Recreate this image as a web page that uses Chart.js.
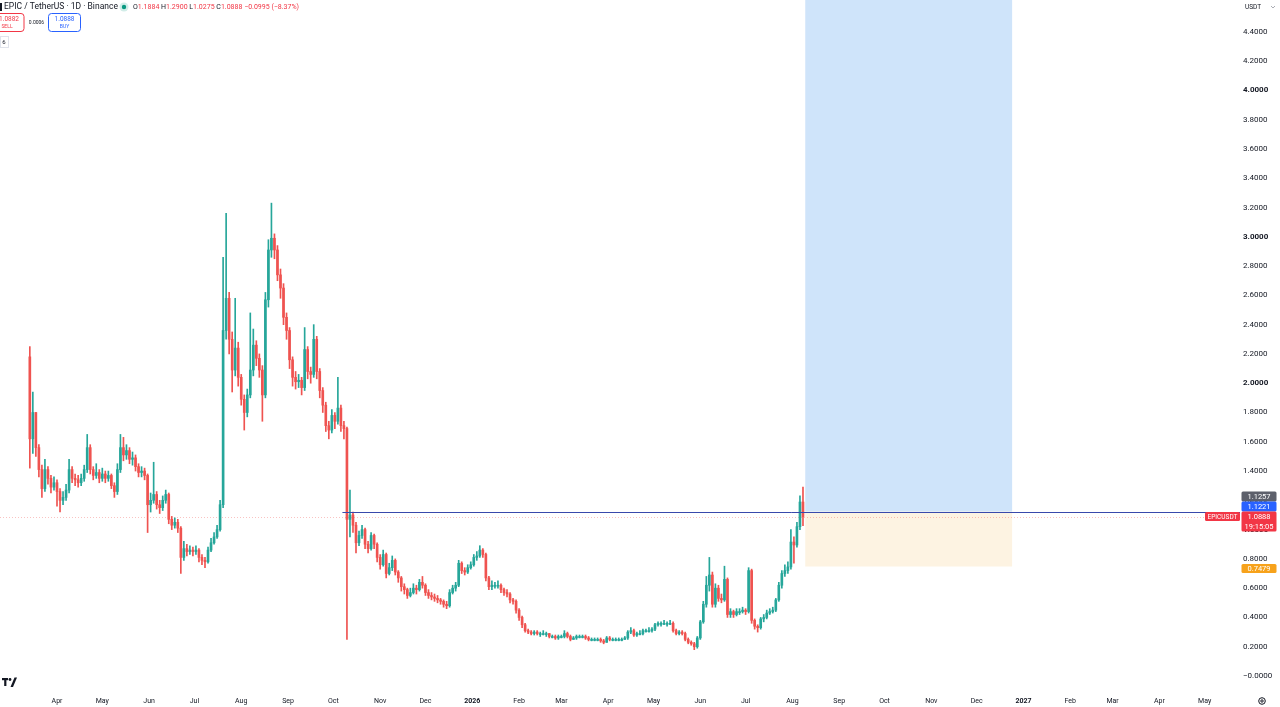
<!DOCTYPE html>
<html>
<head>
<meta charset="utf-8">
<title>EPIC / TetherUS 1D</title>
<script src="https://cdn.jsdelivr.net/npm/chart.js@4.4.1/dist/chart.umd.min.js"></script>
<style>
  html, body { margin: 0; padding: 0; background: #ffffff; overflow: hidden; }
  #box { position: relative; width: 1280px; height: 707px; }
</style>
</head>
<body>
<div id="box"><canvas id="chart"></canvas></div>
<script>
// day 0 = 2025-04-01, one candle every 2 days
const startDay = -18;
const stepDays = 2;
const firstOpen = 2.18;

const closes = [
  1.62,1.80,1.56,1.41,1.28,1.41,1.35,1.29,1.32,1.26,
  1.20,1.22,1.27,1.41,1.35,1.34,1.32,1.35,1.41,1.56,
  1.41,1.37,1.39,1.35,1.38,1.35,1.37,1.30,1.26,1.41,
  1.56,1.51,1.54,1.48,1.49,1.43,1.39,1.40,1.37,1.17,
  1.20,1.24,1.17,1.15,1.20,1.24,1.07,1.03,1.05,1.01,
  0.81,0.87,0.85,0.86,0.85,0.86,0.81,0.79,0.78,0.86,
  0.91,0.95,1.00,1.17,2.36,2.58,2.30,2.09,2.24,2.04,
  1.89,1.80,1.92,2.09,2.26,2.17,2.09,1.92,2.57,2.91,
  2.99,2.91,2.74,2.65,2.45,2.36,2.16,2.04,2.01,2.02,
  1.97,2.23,2.08,2.06,2.30,2.08,1.95,1.85,1.71,1.68,
  1.78,1.74,1.83,1.71,1.69,1.07,1.10,1.03,0.91,0.96,
  1.00,0.90,0.87,0.96,0.90,0.81,0.76,0.83,0.70,0.74,
  0.79,0.71,0.67,0.61,0.59,0.55,0.57,0.60,0.59,0.64,
  0.62,0.57,0.55,0.54,0.53,0.52,0.51,0.49,0.48,0.57,
  0.60,0.62,0.77,0.72,0.71,0.74,0.76,0.81,0.82,0.86,
  0.83,0.67,0.61,0.62,0.62,0.62,0.59,0.57,0.56,0.52,
  0.51,0.45,0.40,0.35,0.31,0.30,0.29,0.30,0.29,0.29,
  0.29,0.29,0.27,0.27,0.26,0.27,0.27,0.29,0.27,0.25,
  0.26,0.27,0.27,0.27,0.26,0.25,0.25,0.25,0.25,0.24,
  0.23,0.26,0.25,0.25,0.25,0.25,0.25,0.26,0.30,0.31,
  0.28,0.29,0.29,0.31,0.31,0.31,0.32,0.35,0.36,0.36,
  0.36,0.36,0.36,0.31,0.29,0.30,0.29,0.25,0.23,0.22,
  0.20,0.26,0.37,0.49,0.62,0.69,0.49,0.60,0.53,0.52,
  0.66,0.42,0.44,0.42,0.44,0.44,0.45,0.44,0.72,0.38,
  0.34,0.33,0.39,0.40,0.43,0.44,0.45,0.52,0.62,0.70,
  0.72,0.745,0.915,0.895,1.02,1.1884,1.0888
];

const highs = [
  2.25,1.94,1.80,1.58,1.44,1.48,1.43,1.37,1.36,1.34,
  1.28,1.26,1.31,1.48,1.43,1.38,1.37,1.38,1.44,1.65,
  1.58,1.43,1.45,1.41,1.42,1.40,1.40,1.38,1.32,1.45,
  1.65,1.63,1.58,1.56,1.53,1.51,1.45,1.43,1.42,1.38,
  1.25,1.46,1.26,1.20,1.23,1.27,1.25,1.09,1.08,1.07,
  1.02,0.92,0.90,0.89,0.88,0.89,0.87,0.83,0.81,0.88,
  0.94,0.98,1.03,1.20,2.86,3.16,2.62,2.35,2.58,2.28,
  2.06,1.92,1.96,2.48,2.37,2.29,2.20,2.12,2.62,2.98,
  3.23,3.02,2.94,2.78,2.68,2.48,2.38,2.18,2.08,2.06,
  2.04,2.38,2.25,2.11,2.40,2.32,2.10,1.97,1.87,1.74,
  1.82,1.80,2.04,1.85,1.74,1.70,1.27,1.12,1.05,0.99,
  1.03,1.01,0.92,0.98,0.97,0.91,0.83,0.86,0.84,0.77,
  0.82,0.80,0.72,0.68,0.63,0.60,0.60,0.63,0.62,0.66,
  0.68,0.63,0.59,0.57,0.56,0.55,0.53,0.52,0.51,0.59,
  0.62,0.64,0.79,0.78,0.74,0.76,0.78,0.83,0.85,0.89,
  0.87,0.84,0.68,0.65,0.64,0.65,0.63,0.60,0.59,0.57,
  0.53,0.52,0.46,0.41,0.36,0.32,0.31,0.31,0.31,0.30,
  0.31,0.30,0.29,0.28,0.28,0.28,0.28,0.31,0.30,0.28,
  0.27,0.28,0.28,0.28,0.28,0.27,0.26,0.26,0.26,0.26,
  0.25,0.27,0.27,0.26,0.26,0.26,0.26,0.27,0.31,0.33,
  0.32,0.30,0.31,0.32,0.32,0.33,0.33,0.36,0.37,0.37,
  0.38,0.37,0.38,0.37,0.32,0.31,0.31,0.30,0.26,0.24,
  0.23,0.27,0.38,0.51,0.68,0.81,0.71,0.63,0.62,0.56,
  0.75,0.67,0.46,0.45,0.46,0.46,0.47,0.46,0.74,0.73,
  0.39,0.35,0.40,0.42,0.45,0.46,0.47,0.53,0.64,0.72,
  0.76,0.78,1.00,0.95,1.05,1.23,1.29
];

const lows = [
  1.42,1.52,1.50,1.36,1.22,1.26,1.31,1.25,1.27,1.16,
  1.12,1.17,1.20,1.25,1.32,1.30,1.29,1.30,1.33,1.39,
  1.38,1.34,1.35,1.32,1.33,1.32,1.33,1.28,1.22,1.24,
  1.39,1.47,1.48,1.45,1.44,1.40,1.36,1.36,1.34,0.98,
  1.12,1.18,1.14,1.11,1.13,1.18,1.04,1.00,1.01,0.98,
  0.70,0.79,0.82,0.83,0.82,0.83,0.78,0.76,0.74,0.77,
  0.85,0.90,0.94,0.99,1.15,2.30,2.20,1.94,2.05,1.98,
  1.85,1.68,1.77,1.90,2.05,2.12,2.04,1.74,1.90,2.52,
  2.86,2.85,2.70,2.58,2.40,2.30,2.10,1.98,1.96,1.97,
  1.92,1.95,2.03,2.00,2.04,2.03,1.90,1.80,1.67,1.62,
  1.66,1.69,1.72,1.67,1.62,0.25,0.95,0.98,0.84,0.89,
  0.94,0.87,0.84,0.86,0.87,0.78,0.73,0.75,0.67,0.69,
  0.72,0.69,0.64,0.58,0.56,0.53,0.54,0.56,0.56,0.58,
  0.60,0.55,0.53,0.52,0.51,0.50,0.49,0.47,0.46,0.47,
  0.56,0.58,0.61,0.70,0.69,0.70,0.73,0.75,0.79,0.81,
  0.81,0.65,0.59,0.59,0.60,0.60,0.57,0.55,0.54,0.50,
  0.49,0.43,0.38,0.33,0.30,0.29,0.28,0.28,0.28,0.27,
  0.28,0.27,0.26,0.26,0.25,0.25,0.26,0.26,0.26,0.24,
  0.25,0.25,0.26,0.26,0.25,0.24,0.24,0.24,0.24,0.23,
  0.22,0.23,0.24,0.24,0.24,0.24,0.24,0.25,0.25,0.29,
  0.27,0.27,0.28,0.28,0.30,0.30,0.30,0.31,0.34,0.34,
  0.35,0.34,0.35,0.30,0.28,0.28,0.28,0.24,0.22,0.21,
  0.18,0.19,0.25,0.36,0.47,0.58,0.47,0.47,0.51,0.50,
  0.51,0.40,0.40,0.40,0.41,0.42,0.43,0.42,0.43,0.36,
  0.32,0.30,0.32,0.37,0.39,0.42,0.43,0.44,0.51,0.60,
  0.68,0.70,0.73,0.77,0.88,1.00,1.0275
];

// month starts, in days from 2025-04-01
const monthTicks = [0,30,61,91,122,153,183,214,244,275,306,334,365,395,426,456,487,518,548,579,609,640,671,699,730,760];
const monthLabels = ['Apr','May','Jun','Jul','Aug','Sep','Oct','Nov','Dec','2026','Feb','Mar','Apr','May','Jun','Jul','Aug','Sep','Oct','Nov','Dec','2027','Feb','Mar','Apr','May'];
const priceTicks = [0,0.2,0.4,0.6,0.8,1.0,1.2,1.4,1.6,1.8,2.0,2.2,2.4,2.6,2.8,3.0,3.2,3.4,3.6,3.8,4.0,4.2,4.4];

// long position tool + lines
const entryPrice = 1.1221;
const stopPrice = 0.7479;
const targetPrice = 4.8;
const markPrice = 1.1257;
const lastPrice = 1.0888;
const entryLineStart = 189;
const posStartDay = 495.5;
const posEndDay = 632.5;

const upColor = '#26a69a';
const downColor = '#ef5350';

const days = closes.map((c, i) => startDay + i * stepDays);
const opens = closes.map((c, i) => i === 0 ? firstOpen : closes[i - 1]);
const colors = closes.map((c, i) => c >= opens[i] ? upColor : downColor);

const FONT = 'Roboto, "Noto Sans", sans-serif';

function tag(ctx, x, y, w, h, bg, lines, size) {
    ctx.fillStyle = bg;
    ctx.beginPath();
    ctx.roundRect(x, y, w, h, 1.5);
    ctx.fill();
    ctx.fillStyle = '#ffffff';
    ctx.font = size + 'px ' + FONT;
    ctx.textAlign = 'center';
    ctx.textBaseline = 'middle';
    const lh = h / lines.length;
    lines.forEach((t, k) => ctx.fillText(t, x + w / 2, y + lh * k + lh / 2 + 0.5));
}

// 축 여백 제거 (차트 영역을 캔버스 끝까지)
function noPad(s) {
    s.paddingTop = 0;
    s.paddingBottom = 0;
    s.paddingLeft = 0;
    s.paddingRight = 0;
}

const overlay = {
    id: 'overlay',
    beforeDatasetsDraw(chart) {
        const { ctx, chartArea: a, scales: { x, y } } = chart;
        ctx.save();
        ctx.beginPath();
        ctx.rect(a.left, a.top, a.right - a.left, a.bottom - a.top);
        ctx.clip();
        const x0 = x.getPixelForValue(posStartDay);
        const x1 = x.getPixelForValue(posEndDay);
        const yE = y.getPixelForValue(entryPrice);
        const yS = y.getPixelForValue(stopPrice);
        const yT = y.getPixelForValue(targetPrice);
        ctx.fillStyle = '#cfe4fa';
        ctx.fillRect(x0, yT, x1 - x0, yE - yT);
        ctx.fillStyle = '#fdf3e2';
        ctx.fillRect(x0, yE, x1 - x0, yS - yE);

        // last price line (dotted, faint)
        const yL = Math.round(y.getPixelForValue(lastPrice)) + 0.5;
        ctx.strokeStyle = 'rgba(239,83,80,0.35)';
        ctx.lineWidth = 1;
        ctx.setLineDash([1, 2]);
        ctx.beginPath();
        ctx.moveTo(a.left, yL);
        ctx.lineTo(a.right, yL);
        ctx.stroke();
        ctx.restore();
    },
    afterDatasetsDraw(chart) {
        const { ctx, chartArea: a, scales: { x, y } } = chart;
        const yE = Math.round(y.getPixelForValue(entryPrice)) + 0.5;
        ctx.save();
        ctx.strokeStyle = '#3949ab';
        ctx.lineWidth = 1;
        ctx.beginPath();
        ctx.moveTo(x.getPixelForValue(entryLineStart), yE);
        ctx.lineTo(a.right, yE);
        ctx.stroke();
        ctx.restore();
    },
    afterDraw(chart) {
        const { ctx, chartArea: a, scales: { y } } = chart;
        ctx.save();

        // price scale tags
        const yL = y.getPixelForValue(lastPrice);
        const tx = a.right + 1.5;
        tag(ctx, tx, yL - 25, 35, 10, '#5d606b', [markPrice.toFixed(4)], 7.5);
        tag(ctx, tx, yL - 15, 35, 10, '#2962ff', [entryPrice.toFixed(4)], 7.5);
        tag(ctx, tx, yL - 5, 35, 20, '#f23645', [lastPrice.toFixed(4), '19:15:05'], 7.5);
        tag(ctx, a.right - 35, yL - 4.5, 35, 9, '#f23645', ['EPICUSDT'], 6.5);
        const yS = y.getPixelForValue(stopPrice);
        tag(ctx, tx, yS - 2.5, 35, 9, '#f7a21b', [stopPrice.toFixed(4)], 7.5);

        // currency button
        ctx.fillStyle = '#131722';
        ctx.font = '6.5px ' + FONT;
        ctx.textAlign = 'left';
        ctx.textBaseline = 'middle';
        ctx.fillText('USDT', 1245, 7);
        ctx.strokeStyle = '#9598a1';
        ctx.lineWidth = 0.8;
        ctx.beginPath();
        ctx.moveTo(1271, 6); ctx.lineTo(1273, 8); ctx.lineTo(1275, 6);
        ctx.stroke();

        // header
        ctx.fillStyle = '#131722';
        ctx.fillRect(0, 3, 2, 8);
        ctx.font = '8.5px ' + FONT;
        ctx.fillText('EPIC / TetherUS \u00b7 1D \u00b7 Binance', 4, 7);
        ctx.fillStyle = 'rgba(8,153,129,0.18)';
        ctx.beginPath(); ctx.arc(124, 7, 4.5, 0, Math.PI * 2); ctx.fill();
        ctx.fillStyle = '#089981';
        ctx.beginPath(); ctx.arc(124, 7, 2.2, 0, Math.PI * 2); ctx.fill();
        const parts = [['O', '#131722'], ['1.1884', '#f23645'], [' H', '#131722'], ['1.2900', '#f23645'],
            [' L', '#131722'], ['1.0275', '#f23645'], [' C', '#131722'], ['1.0888', '#f23645'],
            [' \u22120.0995 (\u22128.37%)', '#f23645']];
        ctx.font = '7px ' + FONT;
        let hx = 133;
        parts.forEach(([t, c]) => { ctx.fillStyle = c; ctx.fillText(t, hx, 7); hx += ctx.measureText(t).width; });

        // sell / buy buttons
        ctx.lineWidth = 1;
        ctx.strokeStyle = '#f23645';
        ctx.fillStyle = '#ffffff';
        ctx.beginPath(); ctx.roundRect(-6, 13.5, 30, 18, 3); ctx.fill(); ctx.stroke();
        ctx.strokeStyle = '#2962ff';
        ctx.beginPath(); ctx.roundRect(48.5, 13.5, 32, 18, 3); ctx.fill(); ctx.stroke();
        ctx.textAlign = 'center';
        ctx.fillStyle = '#f23645';
        ctx.font = '6.5px ' + FONT;
        ctx.fillText('1.0882', 9, 19.5);
        ctx.font = '5px ' + FONT;
        ctx.fillText('SELL', 7, 27);
        ctx.fillStyle = '#2962ff';
        ctx.font = '6.5px ' + FONT;
        ctx.fillText('1.0888', 64.5, 19.5);
        ctx.font = '5px ' + FONT;
        ctx.fillText('BUY', 64.5, 27);
        ctx.fillStyle = '#131722';
        ctx.fillText('0.0006', 36.5, 23);
        ctx.strokeStyle = '#e0e3eb';
        ctx.strokeRect(0.5, 36.5, 8, 11);
        ctx.font = '6px ' + FONT;
        ctx.fillText('6', 4, 42.5);

        // logo
        ctx.fillStyle = '#131722';
        ctx.fillRect(2, 678, 6, 2.2);
        ctx.fillRect(4.2, 678, 2.2, 8);
        ctx.beginPath(); ctx.arc(10, 679.5, 1.4, 0, Math.PI * 2); ctx.fill();
        ctx.beginPath();
        ctx.moveTo(10.5, 687); ctx.lineTo(14.5, 677.5); ctx.lineTo(17, 677.5); ctx.lineTo(13, 687);
        ctx.closePath(); ctx.fill();

        // settings gear
        ctx.strokeStyle = '#131722';
        ctx.lineWidth = 1;
        ctx.beginPath(); ctx.arc(1262, 701, 3.3, 0, Math.PI * 2); ctx.stroke();
        ctx.beginPath(); ctx.arc(1262, 701, 1.2, 0, Math.PI * 2); ctx.stroke();
        ctx.restore();
    }
};

document.addEventListener('DOMContentLoaded', function () {
    const ctx = document.getElementById('chart').getContext('2d');
    new Chart(ctx, {
        type: 'bar',
        data: {
            datasets: [
                {
                    label: 'wick',
                    data: days.map((d, i) => ({ x: d, y: [lows[i], highs[i]] })),
                    backgroundColor: colors,
                    barThickness: 1,
                    grouped: false,
                    order: 2
                },
                {
                    label: 'body',
                    data: days.map((d, i) => ({ x: d, y: [opens[i], closes[i]] })),
                    backgroundColor: colors,
                    barThickness: 2,
                    minBarLength: 1,
                    grouped: false,
                    order: 1
                }
            ]
        },
        options: {
            responsive: true,
            maintainAspectRatio: false,
            animation: false,
            layout: { padding: 0 },
            plugins: {
                legend: { display: false },
                tooltip: { enabled: false }
            },
            scales: {
                x: {
                    type: 'linear',
                    position: 'bottom',
                    min: -37.75,
                    max: 783.4,
                    offset: false,
                    grid: { display: false, drawTicks: false },
                    border: { display: false },
                    afterBuildTicks: s => { s.ticks = monthTicks.map(v => ({ value: v })); },
                    afterFit: s => { s.height = 17; noPad(s); },
                    ticks: {
                        autoSkip: false,
                        maxRotation: 0,
                        padding: 7,
                        color: '#131722',
                        callback: (v, i) => monthLabels[i],
                        font: c => ({ family: FONT, size: 7, weight: /^\d{4}$/.test(monthLabels[c.index]) ? 'bold' : 'normal' })
                    }
                },
                y: {
                    type: 'linear',
                    position: 'right',
                    min: -0.0956,
                    max: 4.6175,
                    grid: { display: false, drawTicks: false },
                    border: { display: false },
                    afterBuildTicks: s => { s.ticks = priceTicks.map(v => ({ value: v })); },
                    afterFit: s => { s.width = 40; noPad(s); },
                    ticks: {
                        padding: 3,
                        color: '#131722',
                        callback: v => v === 0 ? '\u22120.0000' : v.toFixed(4),
                        font: c => ({ family: FONT, size: 8, weight: (c.tick && c.tick.value > 0 && c.tick.value % 1 === 0) ? 'bold' : 'normal' })
                    }
                }
            }
        },
        plugins: [overlay]
    });
});
</script>
</body>
</html>
